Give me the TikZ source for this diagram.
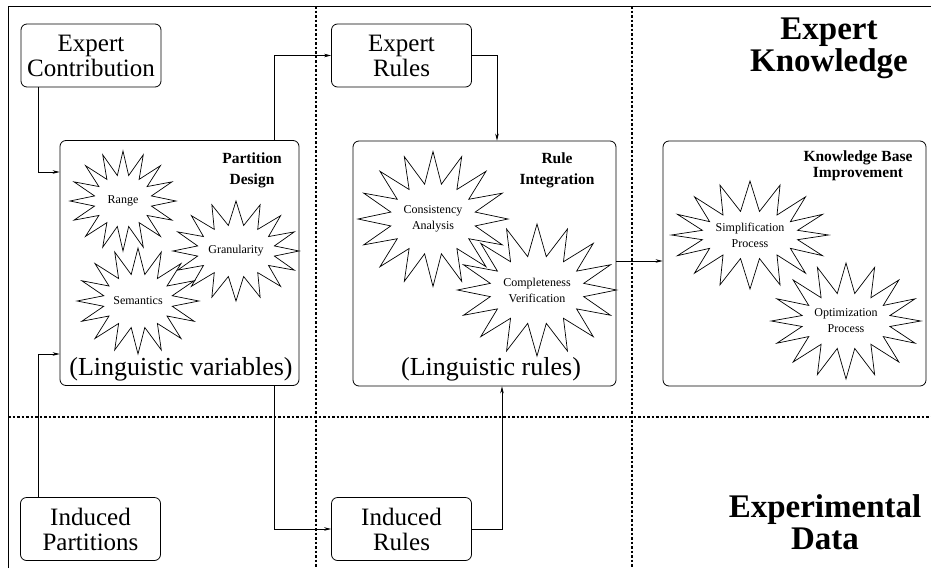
\documentclass[tikz,border=0pt]{standalone}
\usepackage{fontspec}
\setmainfont{Liberation Serif}
\usetikzlibrary{shapes.symbols,arrows.meta}

\tikzset{
  box/.style={draw, rounded corners=6pt, line width=0.8pt, align=center, inner sep=0pt,
    minimum width=140pt, minimum height=63pt, font=\fontsize{25}{25}\selectfont},
  bigbox/.style={draw, rounded corners=6pt, line width=0.8pt, inner sep=0pt,
    minimum width=#1, minimum height=245pt},
  burst/.style={starburst, draw, fill=white, line width=0.7pt, starburst points=16,
    random starburst=0, inner sep=0pt, align=center, font=\fontsize{12}{16}\selectfont},
  boxtitle/.style={align=center, inner sep=0pt, font=\bfseries\fontsize{15.5}{21}\selectfont},
  boxfoot/.style={inner sep=0pt, anchor=base, font=\fontsize{26}{26}\selectfont},
  zone/.style={align=center, inner sep=0pt, font=\bfseries\fontsize{33}{32}\selectfont},
  arr/.style={-{Stealth[length=7pt,width=3.5pt]}, line width=0.6pt},
  sep/.style={line width=1.3pt, dash pattern=on 2.5pt off 2pt}
}

\begin{document}
\begin{tikzpicture}[x=1pt, y=-1pt]
    \useasboundingbox (0,0) rectangle (931,568);

    % frame and zones
    \draw[line width=0.8pt] (8,568) -- (8,6) -- (931,6);
    \draw[sep] (316,6) -- (316,568);
    \draw[sep] (632,6) -- (632,568);
    \draw[sep] (8,417) -- (931,417);
    \node[zone] (know) at (829,48) {Expert\\Knowledge};
    \node[zone] (data) at (825,522) {Experimental\\Data};

    % input boxes
    \node[box] (ec) at (91,55.5) {Expert\\Contribution};
    \node[box] (er) at (401.5,55.5) {Expert\\Rules};
    \node[box] (ip) at (90.5,529) {Induced\\Partitions};
    \node[box] (ir) at (401.5,529) {Induced\\Rules};

    % Partition design
    \node[bigbox=239pt] (pd) at (179.5,263) {};
    \node[boxtitle] (pdt) at (252,170) {Partition\\Design};
    \node[burst, minimum width=106pt, minimum height=100pt, starburst point height=24pt]
      (range) at (123,201) {Range};
    \node[burst, minimum width=114pt, minimum height=100pt, starburst point height=24pt]
      (gran) at (236,251) {Granularity};
    \node[burst, minimum width=120pt, minimum height=106pt, starburst point height=26pt]
      (sem) at (138,301) {Semantics};
    \node[boxfoot] (pdf) at (181,375) {(Linguistic variables)};

    % Rule integration
    \node[bigbox=263pt] (ri) at (484.5,263.5) {};
    \node[boxtitle] (rit) at (557,170) {Rule\\Integration};
    \node[burst, minimum width=150pt, minimum height=135pt, starburst point height=32pt]
      (cons) at (433,219) {Consistency\\Analysis};
    \node[burst, minimum width=148pt, minimum height=132pt, starburst point height=32pt]
      (comp) at (537,290) {Completeness\\Verification};
    \node[boxfoot] (rif) at (491,375) {(Linguistic rules)};

    % Knowledge base improvement
    \node[bigbox=263pt] (kb) at (794.5,263.5) {};
    \node[boxtitle, font=\bfseries\fontsize{15.5}{16.5}\selectfont] (kbt) at (858,166) {Knowledge Base\\Improvement};
    \node[burst, minimum width=152pt, minimum height=108pt, starburst point height=30pt]
      (simp) at (750,235) {Simplification\\Process};
    \node[burst, minimum width=136pt, minimum height=116pt, starburst point height=30pt]
      (opt) at (846,321) {Optimization\\Process};

    % connectors
    \draw[arr] (38,0 |- ec.south) |- (pd.west |- 0,172);
    \draw[arr] (38,0 |- ip.north) |- (pd.west |- 0,354);
    \draw[arr] (274,0 |- pd.north) |- (er.west);
    \draw[arr] (274,0 |- pd.south) |- (ir.west);
    \draw[arr] (er.east) -| (ri.north -| 497,0);
    \draw[arr] (ir.east) -| (ri.south -| 502,0);
    \draw[arr] (ri.east |- 0,261) -- (kb.west |- 0,261);
\end{tikzpicture}
\end{document}
